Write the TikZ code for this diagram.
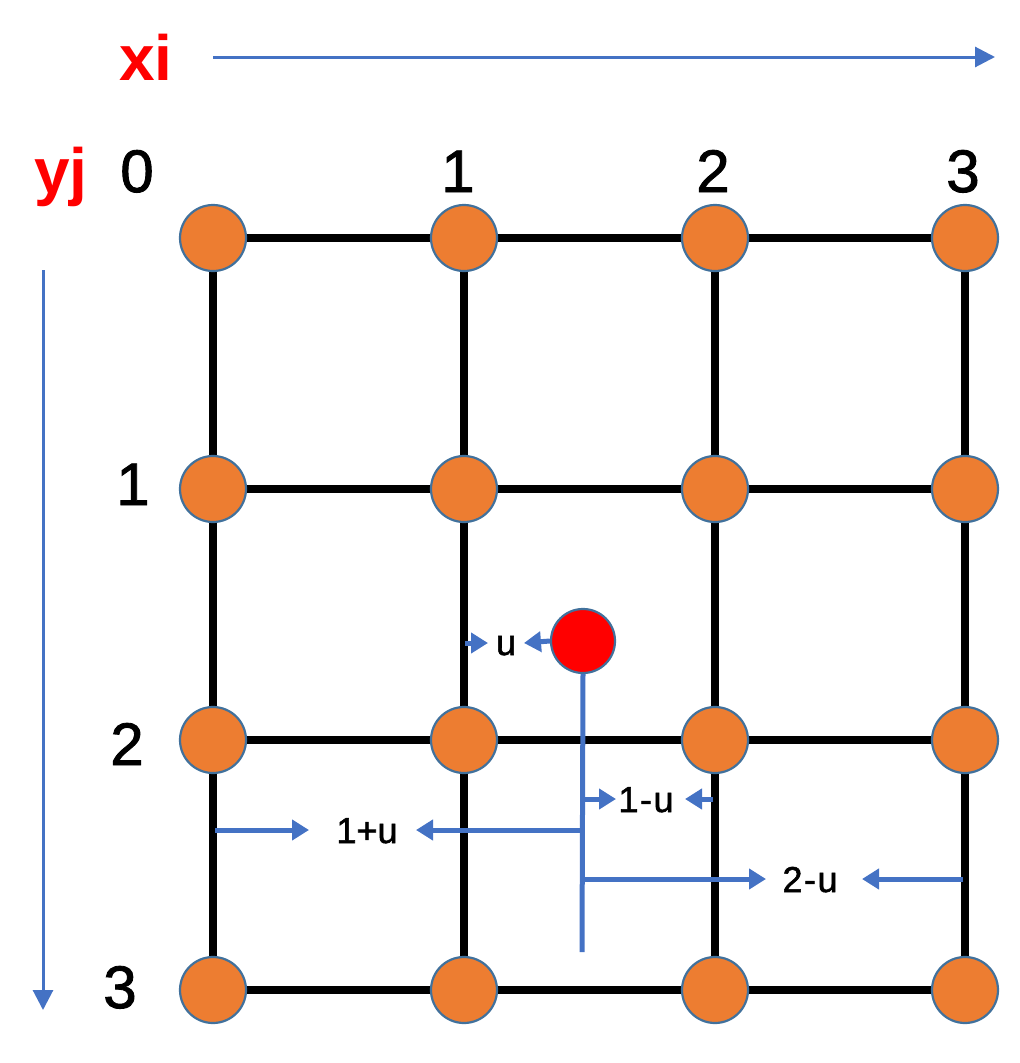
\documentclass[tikz,border=0pt]{standalone}
\usepackage{fontspec}
\setmainfont{Liberation Sans}
\newfontfamily\semibold[FakeBold=1.5]{Liberation Sans}
\usetikzlibrary{arrows.meta}
\definecolor{dotorange}{HTML}{ED7D31}
\definecolor{dotedge}{HTML}{41719C}
\definecolor{lineblue}{HTML}{4472C4}
\tikzset{
  gridpt/.style={circle,draw=dotedge,line width=2.2pt,fill=dotorange,minimum size=66pt,inner sep=0pt},
  redpt/.style={circle,draw=dotedge,line width=2.2pt,fill=red,minimum size=64pt,inner sep=0pt},
  gridline/.style={line width=7.5pt,black},
  bluearr/.style={line width=5pt,lineblue,-{Triangle[length=17pt,width=20pt]}},
  blueline/.style={line width=5pt,lineblue},
  axisarr/.style={line width=3pt,lineblue,-{Triangle[length=20pt,width=20pt]}},
  biglabel/.style={inner sep=0pt,anchor=base,font=\fontsize{60}{72}\semibold},
  axislabel/.style={inner sep=0pt,anchor=base,text=red,font=\fontsize{64}{76}\selectfont\bfseries},
  smalllabel/.style={inner sep=0pt,anchor=base,font=\fontsize{36}{42}\semibold},
}
\begin{document}
\begin{tikzpicture}[x=1pt,y=-1pt]
\useasboundingbox (0,0) rectangle (1020,1063);
% grid lines
\foreach \i/\x in {0/213,1/464,2/715,3/965}{
  \foreach \j/\y in {0/238,1/489,2/740,3/990}{
    \coordinate (c\i\j) at (\x,\y);
  }
}
\foreach \i in {0,1,2,3}{
  \draw[gridline] (c\i0) -- (c\i3);
  \draw[gridline] (c0\i) -- (c3\i);
}
\foreach \i in {0,1,2,3}{
  \foreach \j in {0,1,2,3}{
    \node[gridpt] (p\i\j) at (c\i\j) {};
  }
}
% axes
\node[axislabel] (xi) at (146,80) {xi};
\node[axislabel] (yj) at (61,193) {yj};
\coordinate (xs) at (213,57);
\coordinate (xe) at (995,57);
\coordinate (ys) at (43,270);
\coordinate (ye) at (43,1010);
\draw[axisarr] (xs) -- (xe);
\draw[axisarr] (ys) -- (ye);
% index labels
\node[biglabel] (t0) at (137,192) {0};
\node[biglabel] (t1) at (458,192) {1};
\node[biglabel] (t2) at (713,192) {2};
\node[biglabel] (t3) at (963,192) {3};
\node[biglabel] (l1) at (133,505) {1};
\node[biglabel] (l2) at (127,765) {2};
\node[biglabel] (l3) at (120,1008) {3};
% red point and distances
\node[redpt] (r) at (583,641) {};
\coordinate (vb) at (582,952);
\draw[blueline] (r.south) -- (vb);
% u
\coordinate (ua) at (465,643);
\coordinate (ub) at (488,643);
\coordinate (uc) at (524,643);
\node[smalllabel] (ul) at (506,655) {u};
\draw[bluearr] (ua) -- (ub);
\draw[bluearr] (r.west) -- (uc);
% 1-u
\coordinate (a1) at (582,799);
\coordinate (a2) at (616,799);
\coordinate (a3) at (713,799);
\coordinate (a4) at (685,799);
\node[smalllabel] (lab1mu) at (646,812) {1\kern1.5pt-\kern1.5pt u};
\draw[bluearr] (a1) -- (a2);
\draw[bluearr] (a3) -- (a4);
% 1+u
\coordinate (b1) at (215,830);
\coordinate (b2) at (309,830);
\coordinate (b3) at (582,830);
\coordinate (b4) at (416,830);
\node[smalllabel] (lab1pu) at (367,843) {1+u};
\draw[bluearr] (b1) -- (b2);
\draw[bluearr] (b3) -- (b4);
% 2-u
\coordinate (d1) at (582,879);
\coordinate (d2) at (766,879);
\coordinate (d3) at (963,879);
\coordinate (d4) at (862,879);
\node[smalllabel] (lab2mu) at (810,892) {2\kern1.5pt-\kern1.5pt u};
\draw[bluearr] (d1) -- (d2);
\draw[bluearr] (d3) -- (d4);
\end{tikzpicture}
\end{document}
